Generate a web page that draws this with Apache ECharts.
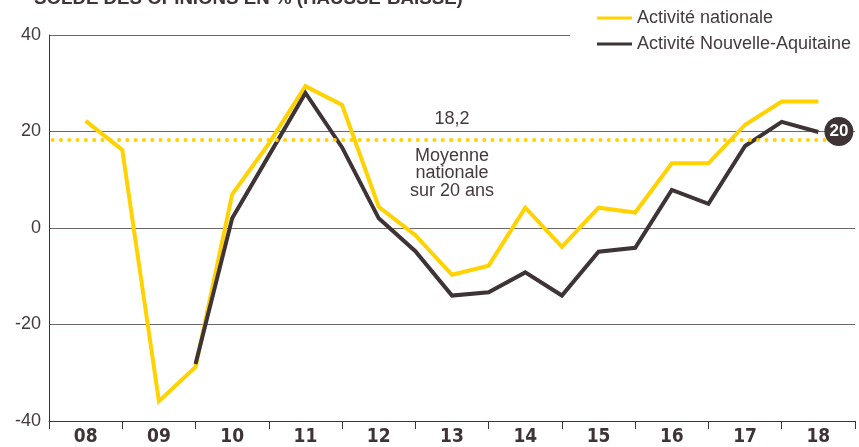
<!DOCTYPE html>
<html>
<head>
<meta charset="utf-8">
<script src="https://cdn.jsdelivr.net/npm/echarts@6/dist/echarts.min.js"></script>
<style>
html,body{margin:0;padding:0;background:#fff;}
#chart{width:859px;height:447px;}
</style>
</head>
<body>
<div id="chart"></div>
<script>
// ---- data ----
var titleText = 'SOLDE DES OPINIONS EN % (HAUSSE-BAISSE)';
var years = ['08','09','10','11','12','13','14','15','16','17','18'];
// semi-annual values, first point = 2008 centre, step = half a year
var national = [22.2, 16.2, -35.9, -28.8, 7.0, 17.5, 29.4, 25.5, 4.4, -1.5, -9.7, -7.8, 4.2, -3.9, 4.2, 3.2, 13.4, 13.4, 21.4, 26.2, 26.2];
var regional = [null, null, null, -28.2, 2.0, 15.0, 28.0, 16.7, 2.0, -4.8, -14.0, -13.3, -9.2, -14.0, -4.9, -4.1, 7.9, 5.0, 17.0, 22.0, 19.9];
var seriesNames = ['Activité nationale', 'Activité Nouvelle-Aquitaine'];
var averageValue = 18.2;
var averageLabel = '18,2';
var averageText = 'Moyenne\nnationale\nsur 20 ans';
var badgeValue = 20;
var yTicks = [-40, -20, 0, 20, 40];

// ---- build ----
function toPoints(arr){
  var out = [];
  for (var i = 0; i < arr.length; i++) {
    if (arr[i] !== null) out.push([i / 2, arr[i]]);
  }
  return out;
}
var YELLOW = '#FFD200';
var DARK = '#3e3435';
var TEXT = '#443a3b';

var chart = echarts.init(document.getElementById('chart'), null, {renderer:'canvas'});
chart.setOption({
  animation: false,
  backgroundColor: '#fff',
  title: {
    text: titleText,
    left: 34, top: -11, padding: 0,
    textStyle: {fontFamily: 'Liberation Sans, Arial, sans-serif', fontWeight: 'bold', fontSize: 18.7, color: DARK}
  },
  grid: {left: 49, right: 4, top: 35, bottom: 23, containLabel: false},
  legend: {
    orient: 'vertical',
    left: 570, top: 0,
    padding: [8, 10, 6, 27],
    itemGap: 6,
    itemWidth: 35, itemHeight: 3,
    icon: 'rect',
    backgroundColor: '#fff',
    textStyle: {fontFamily: 'Liberation Sans, Arial, sans-serif', fontSize: 18, color: TEXT, lineHeight: 20},
    data: seriesNames
  },
  xAxis: [
    {type: 'value', min: -0.5, max: 10.5, show: false},
    {
      type: 'category', data: years, position: 'bottom', boundaryGap: true,
      axisLine: {show: true, onZero: false, lineStyle: {color: DARK, width: 1}},
      axisTick: {show: true, length: 8, lineStyle: {color: DARK}},
      axisLabel: {margin: 7, fontFamily: 'Liberation Sans Narrow, DejaVu Sans Condensed, Liberation Sans, sans-serif', fontWeight: 'bold', fontSize: 19, color: DARK},
      splitLine: {show: false}
    }
  ],
  yAxis: {
    type: 'value', min: yTicks[0], max: yTicks[yTicks.length-1], interval: 20,
    axisLine: {show: true, onZero: false, lineStyle: {color: DARK, width: 1}},
    axisTick: {show: false},
    axisLabel: {margin: 8, fontFamily: 'Liberation Sans, Arial, sans-serif', fontSize: 18, color: TEXT},
    splitLine: {show: true, lineStyle: {color: '#6f6767', width: 1}}
  },
  series: [
    {
      name: seriesNames[0], type: 'line', xAxisIndex: 0,
      data: toPoints(national),
      symbol: 'none', z: 3,
      lineStyle: {color: YELLOW, width: 4, join: 'miter'},
      itemStyle: {color: YELLOW},
      markLine: {
        silent: true, symbol: 'none',
        lineStyle: {color: YELLOW, width: 4, type: [0, 8.3], cap: 'round'},
        label: {show: false},
        data: [[{coord: [-0.45, averageValue]}, {coord: [10.28, averageValue]}]]
      }
    },
    {
      name: seriesNames[1], type: 'line', xAxisIndex: 0,
      data: toPoints(regional),
      symbol: 'none', z: 4,
      lineStyle: {color: DARK, width: 4, join: 'miter'},
      itemStyle: {color: DARK},
      markPoint: {
        silent: true,
        symbol: 'circle', symbolSize: 29,
        itemStyle: {color: DARK},
        label: {show: true, position: 'inside', formatter: String(badgeValue), color: '#fff', fontWeight: 'bold', fontSize: 17, fontFamily: 'Liberation Sans, Arial, sans-serif'},
        data: [{coord: [10.28, badgeValue]}]
      }
    }
  ],
  graphic: [
    {type: 'text', x: 452, y: 119, style: {text: averageLabel, fill: TEXT, font: '18px "Liberation Sans", Arial, sans-serif', align: 'center', verticalAlign: 'middle'}},
    {type: 'text', x: 452, y: 147, style: {text: averageText, fill: TEXT, font: '18px "Liberation Sans", Arial, sans-serif', align: 'center', verticalAlign: 'top', lineHeight: 17.5}}
  ]
});
</script>
</body>
</html>
